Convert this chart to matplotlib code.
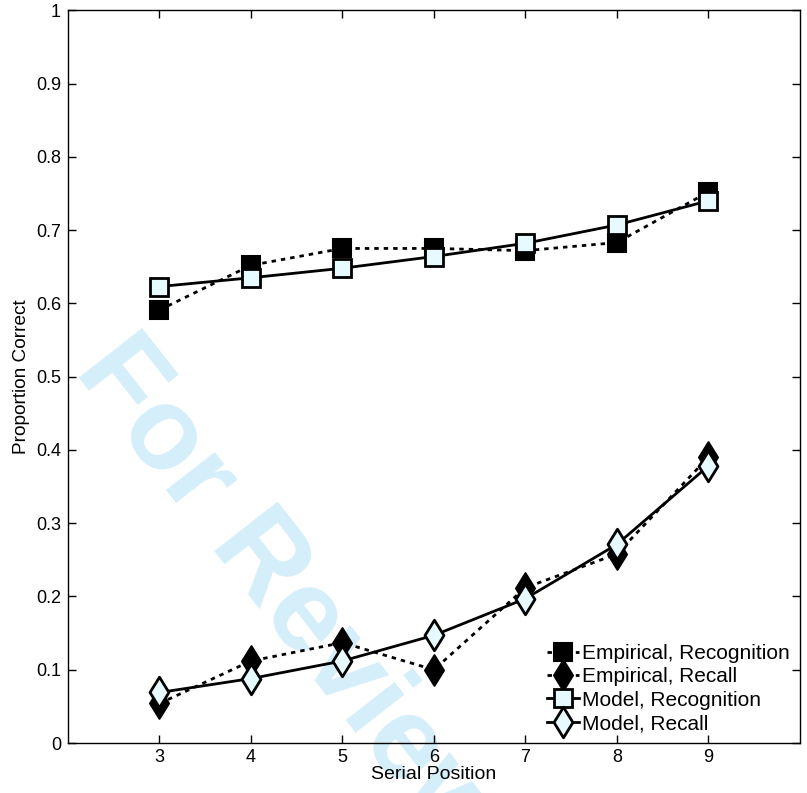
import matplotlib.pyplot as plt
import numpy as np
from matplotlib.path import Path

plt.rcParams['font.family'] = ['Liberation Sans', 'DejaVu Sans']

positions = [3, 4, 5, 6, 7, 8, 9]
emp_recognition = [0.591, 0.652, 0.675, 0.675, 0.672, 0.683, 0.752]
emp_recall = [0.054, 0.112, 0.137, 0.100, 0.212, 0.258, 0.390]
model_recognition = [0.623, 0.635, 0.648, 0.664, 0.682, 0.707, 0.740]
model_recall = [0.069, 0.088, 0.112, 0.147, 0.197, 0.271, 0.378]

labels = ['Empirical, Recognition', 'Empirical, Recall',
          'Model, Recognition', 'Model, Recall']

# matlab-style diamond: taller than wide
diamond = Path([(0, 1), (0.62, 0), (0, -1), (-0.62, 0), (0, 1)],
               [Path.MOVETO, Path.LINETO, Path.LINETO, Path.LINETO, Path.CLOSEPOLY])

fill = '#e6faff'
dotted = (0, (1.6, 1.8))

fig = plt.figure(figsize=(8.07, 7.93), dpi=100)
ax = fig.add_axes([0.0843, 0.063, 0.9067, 0.924])

ax.plot(positions, emp_recognition, ls=dotted, color='k', lw=2, marker='s', ms=13,
        mfc='k', mec='k', mew=1.5, label=labels[0], zorder=3)
ax.plot(positions, emp_recall, ls=dotted, color='k', lw=2, marker=diamond, ms=22,
        mfc='k', mec='k', mew=1.5, label=labels[1], zorder=3)
ax.plot(positions, model_recognition, '-', color='k', lw=2, marker='s', ms=13,
        mfc=fill, mec='k', mew=2, label=labels[2], zorder=4)
ax.plot(positions, model_recall, '-', color='k', lw=2, marker=diamond, ms=22,
        mfc=fill, mec='k', mew=2, label=labels[3], zorder=4)

ax.set_xlim(2, 10)
ax.set_ylim(0, 1)
ax.set_xticks(positions)
ax.set_yticks(np.arange(0, 1.01, 0.1))
ax.set_yticklabels(['0', '0.1', '0.2', '0.3', '0.4', '0.5', '0.6', '0.7', '0.8', '0.9', '1'])
ax.tick_params(direction='in', length=6, width=1, labelsize=13,
               top=True, right=True, pad=5)
ax.tick_params(axis='x', pad=4)
for s in ax.spines.values():
    s.set_linewidth(1)

ax.set_xlabel('Serial Position', fontsize=14, labelpad=0)
ax.set_ylabel('Proportion Correct', fontsize=13.7, labelpad=4)

ax.legend(loc='lower right', frameon=False, fontsize=15, handlelength=1.55,
          handletextpad=0.15, labelspacing=0.21, borderaxespad=0.08)

ax.patch.set_alpha(0)
fig.text(0.327, 0.223, 'For Review', fontsize=84, fontweight='bold',
         color='#d4eefa', rotation=-52, ha='center', va='baseline',
         rotation_mode='anchor', zorder=-1)

fig.savefig('out.png', dpi=100)
